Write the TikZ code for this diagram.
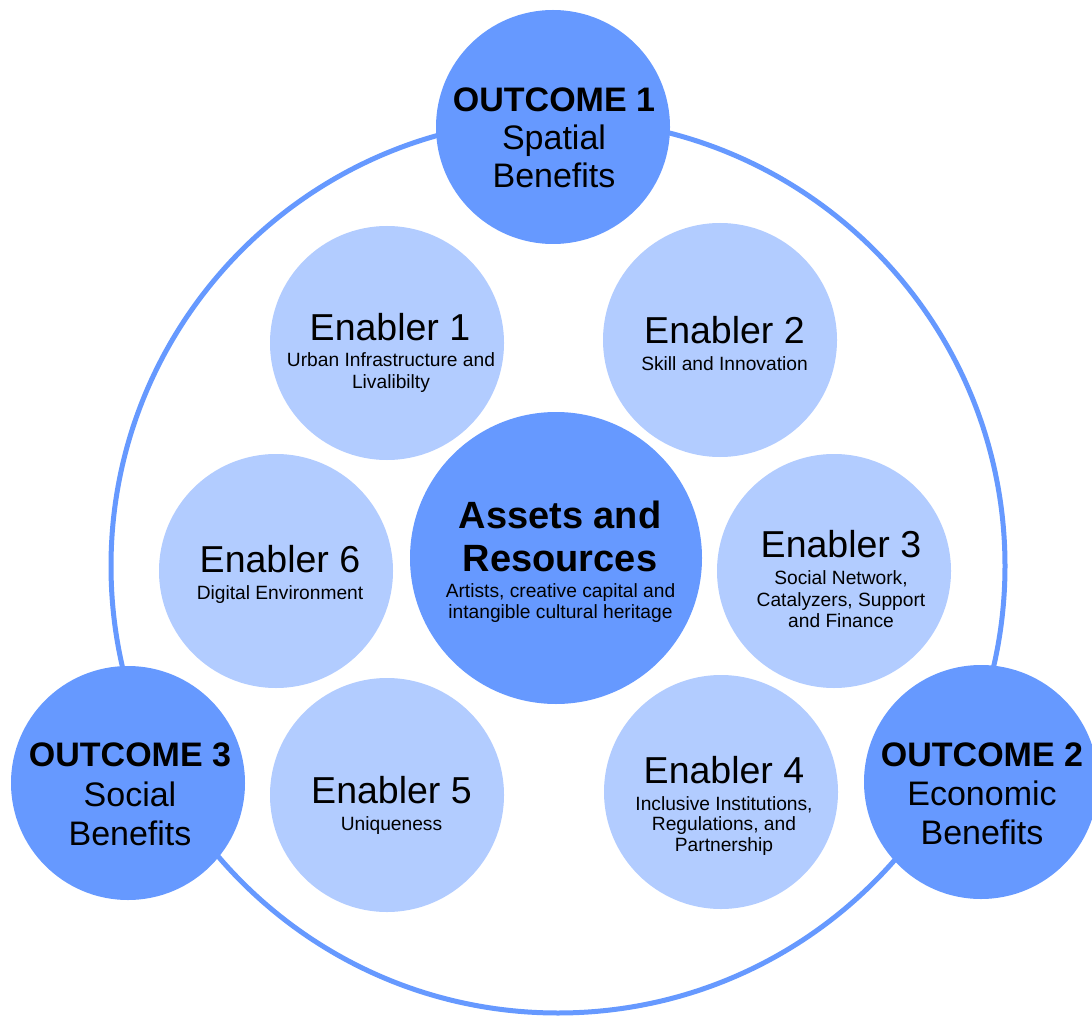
\documentclass[tikz,border=0pt]{standalone}
\usepackage{fontspec}
\setmainfont{Liberation Sans}
\definecolor{deepblue}{RGB}{102,153,255}
\definecolor{paleblue}{RGB}{178,204,255}

\begin{document}
\begin{tikzpicture}[x=1pt,y=-1pt,
  disc/.style={circle, inner sep=0pt, minimum size=234pt},
  outcome/.style={disc, fill=deepblue},
  enabler/.style={disc, fill=paleblue},
  core/.style={circle, inner sep=0pt, minimum size=292pt, fill=deepblue},
  ln/.style={anchor=base, inner sep=0pt},
  otitle/.style={ln, font=\fontsize{34}{34}\selectfont\bfseries},
  otext/.style={ln, font=\fontsize{34}{34}\selectfont},
  etitle/.style={ln, font=\fontsize{37.5}{37.5}\selectfont},
  etext/.style={ln, font=\fontsize{19.2}{19.2}\selectfont},
  ctitle/.style={ln, font=\fontsize{38}{38}\selectfont\bfseries},
]
\clip (0,0) rectangle (1092,1016);
\fill[white] (0,0) rectangle (1092,1016);

% outer ring joining the three outcomes
\node[circle, draw=deepblue, line width=5pt, minimum size=894pt, inner sep=0pt] (ring) at (558,566) {};

% outcomes
\node[outcome] (out1) at (553,127) {};
\node[outcome] (out2) at (981,782) {};
\node[outcome] (out3) at (128,783) {};

% enablers
\node[enabler] (en1) at (387,343) {};
\node[enabler] (en2) at (720,340) {};
\node[enabler] (en3) at (834,571) {};
\node[enabler] (en4) at (721,792) {};
\node[enabler] (en5) at (387,795) {};
\node[enabler] (en6) at (276,571) {};

% core
\node[core] (core) at (556,558) {};

% outcome labels
\node[otitle] (out1a) at (554,111.7) {OUTCOME 1};
\node[otext]  (out1b) at (554,150) {Spatial};
\node[otext]  (out1c) at (554,188) {Benefits};

\node[otitle] (out2a) at (982,766) {OUTCOME 2};
\node[otext]  (out2b) at (982,805) {Economic};
\node[otext]  (out2c) at (982,844) {Benefits};

\node[otitle] (out3a) at (130,766.7) {OUTCOME 3};
\node[otext]  (out3b) at (130,806.7) {Social};
\node[otext]  (out3c) at (130,845) {Benefits};

% core labels
\node[ctitle] (corea) at (560,528.3) {Assets and};
\node[ctitle] (coreb) at (560,571.7) {Resources};
\node[etext]  (corec) at (560.5,597.7) {Artists, creative capital and};
\node[etext]  (cored) at (560.5,618.3) {intangible cultural heritage};

% enabler labels
\node[etitle] (en1a) at (390,340) {Enabler 1};
\node[etext]  (en1b) at (391,366.7) {Urban Infrastructure and};
\node[etext]  (en1c) at (391,388) {Livalibilty};

\node[etitle] (en2a) at (724.5,343.3) {Enabler 2};
\node[etext]  (en2b) at (724.5,370) {Skill and Innovation};

\node[etitle] (en3a) at (841,557.3) {Enabler 3};
\node[etext]  (en3b) at (841,584) {Social Network,};
\node[etext]  (en3c) at (841,606) {Catalyzers, Support};
\node[etext]  (en3d) at (841,627.3) {and Finance};

\node[etitle] (en4a) at (724,783.3) {Enabler 4};
\node[etext]  (en4b) at (724,810) {Inclusive Institutions,};
\node[etext]  (en4c) at (724,830.7) {Regulations, and};
\node[etext]  (en4d) at (724,851.7) {Partnership};

\node[etitle] (en5a) at (391.5,803.3) {Enabler 5};
\node[etext]  (en5b) at (391.5,830) {Uniqueness};

\node[etitle] (en6a) at (280,572.7) {Enabler 6};
\node[etext]  (en6b) at (280,599.3) {Digital Environment};
\end{tikzpicture}
\end{document}
